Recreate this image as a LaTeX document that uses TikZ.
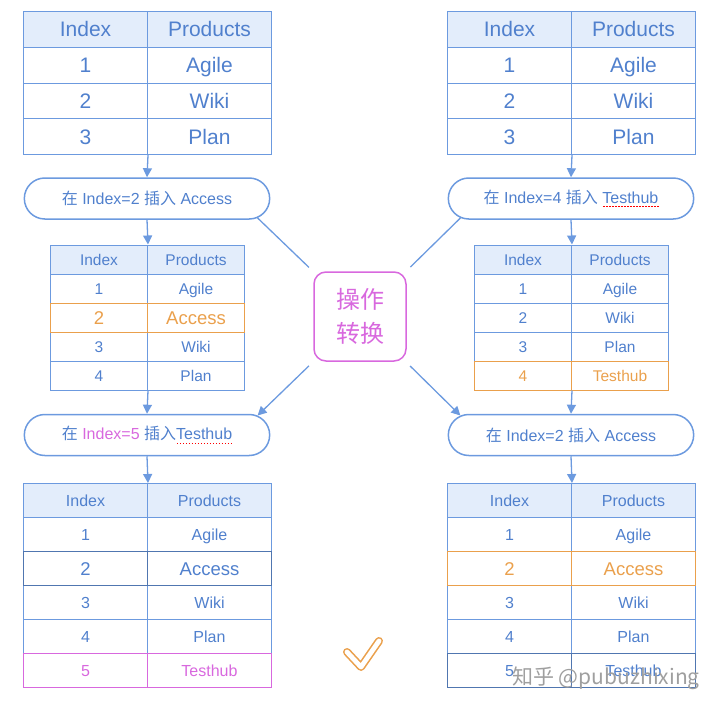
\documentclass[tikz,border=0pt]{standalone}
\usepackage{fontspec}
\setmainfont{Liberation Sans}
\newfontfamily\cjk{Noto Sans CJK SC}
\usetikzlibrary{arrows.meta, shapes.misc}

\definecolor{lnblue}{RGB}{108,154,223}
\definecolor{txblue}{RGB}{80,128,205}
\definecolor{hdfill}{RGB}{227,237,251}
\definecolor{hiorange}{RGB}{234,160,76}
\definecolor{himag}{RGB}{216,104,222}
\definecolor{dkblue}{RGB}{80,118,176}
\newcommand{\fsz}[1]{\fontsize{#1}{#1}\selectfont}
\newsavebox{\typobox}
\newcount\typon
% red dashed spell-check mark under a word
\newcommand{\typo}[1]{\sbox{\typobox}{#1}%
  \typon=\numexpr\wd\typobox/196608\relax
  \usebox{\typobox}\llap{\hbox to \wd\typobox{{\color{red}\loop\ifnum\typon>0
    \kern0.65pt\vrule width 1.7pt height -3pt depth 4.3pt\kern0.65pt
    \advance\typon by -1 \repeat}\hss}}}

\begin{document}
\begin{tikzpicture}[x=1pt, y=-1pt,
  cell/.style={draw=lnblue, line width=1pt, text=txblue, inner sep=0pt,
               text depth=0pt, anchor=north west},
  head/.style={cell, fill=hdfill},
  big/.style={minimum width=124pt, minimum height=35.75pt, font=\fsz{21}, text height=15pt},
  mid/.style={minimum width=97pt, minimum height=29pt, font=\fsz{15.5}, text height=11.1pt},
  low/.style={minimum width=124pt, minimum height=34pt, font=\fsz{16}, text height=11.5pt},
  large/.style={font=\fsz{18.5}, text height=13.2pt},
  hl/.style={draw=hiorange, text=hiorange},
  op/.style={draw=lnblue, line width=1.5pt, rounded rectangle, minimum width=252pt,
             minimum height=41pt, text=txblue, font=\fsz{16}},
  flow/.style={-{Triangle[length=9pt, width=9pt]}, lnblue, line width=1.3pt},
  spoke/.style={lnblue, line width=1.3pt}]
  \useasboundingbox (0,0) rectangle (720,710);
  % the list before any edit, twice
  \node[head, big] (ta-i0) at (23,11) {Index};
  \node[head, big] (ta-p0) at (147,11) {Products};
  \node[head, big] (tb-i0) at (447,11) {Index};
  \node[head, big] (tb-p0) at (571,11) {Products};
  \foreach \v [count=\r] in {Agile,Wiki,Plan}{
    \node[cell, big] (ta-i\r) at (23,11+35.75*\r) {\r};
    \node[cell, big] (ta-p\r) at (147,11+35.75*\r) {\v};
    \node[cell, big] (tb-i\r) at (447,11+35.75*\r) {\r};
    \node[cell, big] (tb-p\r) at (571,11+35.75*\r) {\v};
  }
  % the two edits made at the same time
  \node[op] (opa) at (147,198.5) {{\cjk 在} Index=2 {\cjk 插入} Access};
  \node[op] (opb) at (571,198.5) {{\cjk 在} Index=4 {\cjk 插入} \typo{Testhub}};
  % left after Access went in
  \node[head, mid] (ma-i0) at (50,244.5) {Index};
  \node[head, mid] (ma-p0) at (147,244.5) {Products};
  \foreach \r/\v in {1/Agile,3/Wiki,4/Plan}{
    \node[cell, mid] (ma-i\r) at (50,244.5+29*\r) {\r};
    \node[cell, mid] (ma-p\r) at (147,244.5+29*\r) {\v};
  }
  \node[cell, mid, hl, large] (ma-i2) at (50,302.5) {2};
  \node[cell, mid, hl, large] (ma-p2) at (147,302.5) {Access};
  % right after Testhub went in
  \node[head, mid] (mb-i0) at (474,244.5) {Index};
  \node[head, mid] (mb-p0) at (571,244.5) {Products};
  \foreach \v [count=\r] in {Agile,Wiki,Plan}{
    \node[cell, mid] (mb-i\r) at (474,244.5+29*\r) {\r};
    \node[cell, mid] (mb-p\r) at (571,244.5+29*\r) {\v};
  }
  \node[cell, mid, hl] (mb-i4) at (474,360.5) {4};
  \node[cell, mid, hl] (mb-p4) at (571,360.5) {Testhub};
  % the transform in the middle
  \node[draw=himag, line width=1.5pt, rounded corners=12pt, minimum width=92pt,
        minimum height=89pt, text=himag, font=\cjk\fontsize{24}{34}\selectfont,
        align=center] (xf) at (360,316.5) {操作\\转换};
  \node[op] (opc) at (147,435) {{\cjk 在} \textcolor{himag}{Index=5} {\cjk 插入}\typo{Testhub}};
  \node[op] (opd) at (571,435) {{\cjk 在} Index=2 {\cjk 插入} Access};
  % both sides end the same
  \node[head, low] (ba-i0) at (23,483) {Index};
  \node[head, low] (ba-p0) at (147,483) {Products};
  \node[head, low] (bb-i0) at (447,483) {Index};
  \node[head, low] (bb-p0) at (571,483) {Products};
  \foreach \r/\v in {1/Agile,3/Wiki,4/Plan}{
    \node[cell, low] (ba-i\r) at (23,483+34*\r) {\r};
    \node[cell, low] (ba-p\r) at (147,483+34*\r) {\v};
    \node[cell, low] (bb-i\r) at (447,483+34*\r) {\r};
    \node[cell, low] (bb-p\r) at (571,483+34*\r) {\v};
  }
  \node[cell, low, draw=dkblue, large] (ba-i2) at (23,551) {2};
  \node[cell, low, draw=dkblue, large] (ba-p2) at (147,551) {Access};
  \node[cell, low, draw=himag, text=himag] (ba-i5) at (23,653) {5};
  \node[cell, low, draw=himag, text=himag] (ba-p5) at (147,653) {Testhub};
  \node[cell, low, hl, large] (bb-i2) at (447,551) {2};
  \node[cell, low, hl, large] (bb-p2) at (571,551) {Access};
  \node[cell, low, draw=dkblue] (bb-i5) at (447,653) {5};
  \node[cell, low, draw=dkblue] (bb-p5) at (571,653) {Testhub};
  % flow down each side
  \draw[flow] (ta-i3.south east) -- (opa.north);
  \draw[flow] (opa.south) -- (ma-i0.north east);
  \draw[flow] (ma-i4.south east) -- (opc.north);
  \draw[flow] (opc.south) -- (ba-i0.north east);
  \draw[flow] (tb-i3.south east) -- (opb.north);
  \draw[flow] (opb.south) -- (mb-i0.north east);
  \draw[flow] (mb-i4.south east) -- (opd.north);
  \draw[flow] (opd.south) -- (bb-i0.north east);
  % into and out of the transform
  \draw[spoke, shorten >=6pt] (opa.-10) -- (xf);
  \draw[spoke, shorten >=6pt] (opb.190) -- (xf);
  \draw[flow, shorten <=6pt] (xf) -- (opc.10);
  \draw[flow, shorten <=6pt] (xf) -- (opd.170);
  % tick and watermark
  \draw[hiorange, line width=1.6pt, double=white, double distance=4.8pt,
        line join=round, line cap=round] (347,652) -- (361,667) -- (379,641);
  \node[text=gray!75, font=\cjk\fsz{21}] (wm) at (606,678) {知乎 @pubuzhixing};
\end{tikzpicture}
\end{document}
